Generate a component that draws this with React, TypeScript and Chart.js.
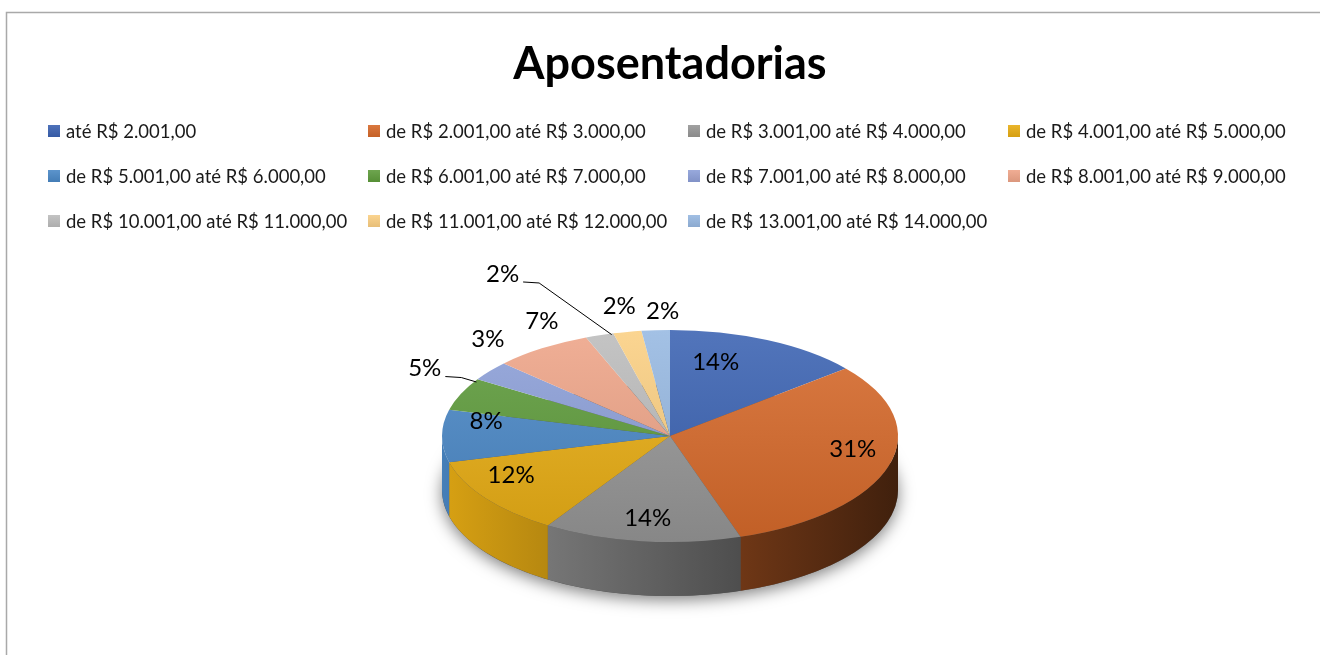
import React, { useEffect, useRef } from 'react';
import { Chart, registerables } from 'chart.js';

Chart.register(...registerables);

const chartTitle = 'Aposentadorias';
const categories = [
  'até R$ 2.001,00',
  'de R$ 2.001,00 até R$ 3.000,00',
  'de R$ 3.001,00 até R$ 4.000,00',
  'de R$ 4.001,00 até R$ 5.000,00',
  'de R$ 5.001,00 até R$ 6.000,00',
  'de R$ 6.001,00 até R$ 7.000,00',
  'de R$ 7.001,00 até R$ 8.000,00',
  'de R$ 8.001,00 até R$ 9.000,00',
  'de R$ 10.001,00 até R$ 11.000,00',
  'de R$ 11.001,00 até R$ 12.000,00',
  'de R$ 13.001,00 até R$ 14.000,00',
];
const shares = [14, 31, 14, 12, 8, 5, 3, 7, 2, 2, 2];
const sliceColors = [
  '#3a62b2', '#d6692a', '#969696', '#e8ad14', '#4a88c6', '#5e9b3b',
  '#8c9fd8', '#eea488', '#bcbcbc', '#fbcf82', '#97b8e1',
];

// styling / geometry of the pseudo-3D pie (not data)
const PIE_RADIUS = 228;
const TILT = { cy: 436, ry: 106, depth: 54 };
const INNER_F = 0.78;
const OUTER_FX = 1.0;
const OUTER_FY = 1.27;
// small label nudges (px) emulating Excel's perspective label placement
const LABEL_NUDGE: [number, number][] = [
  [-30, 1], [12, -10], [0, 0], [-15, -9], [-6, -15], [-36, -14],
  [-2, -14], [0, -3], [-97, -34], [-8, 3], [7, 10],
];
const LEADER_LINES = new Set([5, 8]);
const LEGEND = { x0: 48, colW: 320, y0: 131, rowH: 45, cols: 4, box: 12, gap: 6 };

function hexToRgb(h: string) {
  const n = parseInt(h.slice(1), 16);
  return [(n >> 16) & 255, (n >> 8) & 255, n & 255];
}
function shade(h: string, f: number) {
  const [r, g, b] = hexToRgb(h);
  const c = (v: number) => Math.max(0, Math.min(255, Math.round(v * f)));
  return `rgb(${c(r)},${c(g)},${c(b)})`;
}
function lighten(h: string, t: number) {
  const [r, g, b] = hexToRgb(h);
  const c = (v: number) => Math.round(v + (255 - v) * t);
  return `rgb(${c(r)},${c(g)},${c(b)})`;
}

const pie3d = {
  id: 'pie3d',
  beforeDraw(chart: any) {
    const ctx = chart.ctx;
    ctx.save();
    ctx.fillStyle = '#ffffff';
    ctx.fillRect(0, 0, chart.width, chart.height);
    ctx.strokeStyle = '#a9a9a9';
    ctx.lineWidth = 1.5;
    ctx.strokeRect(6.5, 12.5, chart.width + 20, chart.height + 20);
    ctx.restore();
  },
  beforeDatasetsDraw(chart: any) {
    const ctx = chart.ctx;
    const arcs = chart.getDatasetMeta(0).data;
    if (!arcs.length) return;
    const cx = arcs[0].x;
    const cy0 = arcs[0].y;
    const R = arcs[0].outerRadius;
    const { cy, ry, depth } = TILT;

    // soft shadow beneath
    ctx.save();
    ctx.shadowColor = 'rgba(0,0,0,0.5)';
    ctx.shadowBlur = 16;
    ctx.shadowOffsetY = 4;
    ctx.fillStyle = '#555';
    ctx.beginPath();
    ctx.ellipse(cx, cy + depth, R, ry, 0, 0, Math.PI * 2);
    ctx.fill();
    ctx.restore();

    // side walls (front half only)
    arcs.forEach((arc: any, i: number) => {
      const a = Math.max(arc.startAngle, 0);
      const b = Math.min(arc.endAngle, Math.PI);
      if (a >= b) return;
      const base = sliceColors[i];
      const g = ctx.createLinearGradient(cx - R, 0, cx + R, 0);
      g.addColorStop(0, shade(base, 0.93));
      g.addColorStop(1, shade(base, 0.3));
      ctx.save();
      ctx.fillStyle = g;
      ctx.beginPath();
      ctx.ellipse(cx, cy, R, ry, 0, a, b, false);
      ctx.ellipse(cx, cy + depth, R, ry, 0, b, a, true);
      ctx.closePath();
      ctx.fill();
      ctx.restore();
    });

    // squash the top face into an ellipse
    ctx.save();
    ctx.translate(cx, cy);
    ctx.scale(1, ry / R);
    ctx.translate(-cx, -cy0);
  },
  afterDatasetsDraw(chart: any) {
    const ctx = chart.ctx;
    ctx.restore();
    const arcs = chart.getDatasetMeta(0).data;
    if (!arcs.length) return;
    const cx = arcs[0].x;
    const R = arcs[0].outerRadius;
    const { cy, ry } = TILT;
    const total = shares.reduce((s, v) => s + v, 0);
    ctx.save();
    ctx.font = '24px Lato';
    ctx.fillStyle = '#000';
    ctx.textAlign = 'center';
    ctx.textBaseline = 'middle';
    ctx.strokeStyle = '#000';
    ctx.lineWidth = 1;
    arcs.forEach((arc: any, i: number) => {
      const m = (arc.startAngle + arc.endAngle) / 2;
      const pct = Math.round((shares[i] / total) * 100);
      const text = pct + '%';
      let x: number, y: number;
      if (pct >= 8) {
        x = cx + R * INNER_F * Math.cos(m);
        y = cy + ry * INNER_F * Math.sin(m);
      } else {
        x = cx + R * OUTER_FX * Math.cos(m);
        y = cy + ry * OUTER_FY * Math.sin(m);
      }
      const nudge = LABEL_NUDGE[i] || [0, 0];
      x += nudge[0];
      y += nudge[1];
      if (LEADER_LINES.has(i)) {
        const t = arc.startAngle + 0.92 * (arc.endAngle - arc.startAngle);
        const ex = cx + R * 0.99 * Math.cos(t);
        const ey = cy + ry * 0.99 * Math.sin(t);
        const w = ctx.measureText(text).width;
        const sx = x + w / 2 + 4;
        const sy = y + 8;
        ctx.beginPath();
        ctx.moveTo(sx, sy);
        ctx.lineTo(sx + 16, sy + 1);
        ctx.lineTo(ex, ey);
        ctx.stroke();
      }
      ctx.fillText(text, x, y);
    });
    ctx.restore();
  },
  afterDraw(chart: any) {
    const ctx = chart.ctx;
    ctx.save();
    ctx.font = '18.5px Lato';
    ctx.textBaseline = 'middle';
    ctx.textAlign = 'left';
    categories.forEach((label, i) => {
      const col = i % LEGEND.cols;
      const row = Math.floor(i / LEGEND.cols);
      const x = LEGEND.x0 + col * LEGEND.colW;
      const y = LEGEND.y0 + row * LEGEND.rowH;
      const g = ctx.createLinearGradient(0, y - LEGEND.box / 2, 0, y + LEGEND.box / 2);
      g.addColorStop(0, lighten(sliceColors[i], 0.1));
      g.addColorStop(1, shade(sliceColors[i], 0.92));
      ctx.fillStyle = g;
      ctx.fillRect(x, y - LEGEND.box / 2, LEGEND.box, LEGEND.box);
      ctx.fillStyle = '#1a1a1a';
      ctx.fillText(label, x + LEGEND.box + LEGEND.gap, y + 1);
    });
    ctx.restore();
  },
};

export default function App() {
  const ref = useRef<HTMLCanvasElement>(null);
  useEffect(() => {
    if (!ref.current) return;
    const chart = new Chart(ref.current, {
      type: 'pie',
      data: {
        labels: categories,
        datasets: [
          {
            data: shares,
            borderWidth: 0,
            radius: PIE_RADIUS,
            clip: false,
            backgroundColor: (c: any) => {
              const base = sliceColors[c.dataIndex];
              const area = c.chart.chartArea;
              if (!area) return base;
              const midY = (area.top + area.bottom) / 2;
              const g = c.chart.ctx.createLinearGradient(0, midY - PIE_RADIUS, 0, midY + PIE_RADIUS);
              g.addColorStop(0, lighten(base, 0.12));
              g.addColorStop(1, shade(base, 0.9));
              return g;
            },
          } as any,
        ],
      },
      options: {
        animation: false,
        responsive: false,
        events: [],
        layout: { padding: { left: 30, right: 10, top: 0, bottom: 0 } },
        plugins: {
          legend: { display: false },
          tooltip: { enabled: false },
          title: {
            display: true,
            text: chartTitle,
            color: '#000',
            font: { family: 'Lato', size: 45, weight: 'bold' },
            padding: { top: 37, bottom: 10 },
          },
        },
      },
      plugins: [pie3d],
    });
    return () => chart.destroy();
  }, []);
  return (
    <div style={{ position: 'absolute', left: 0, top: 0, width: 1320, height: 655, background: '#fff' }}>
      <canvas ref={ref} width={1320} height={655} style={{ display: 'block' }} />
    </div>
  );
}
